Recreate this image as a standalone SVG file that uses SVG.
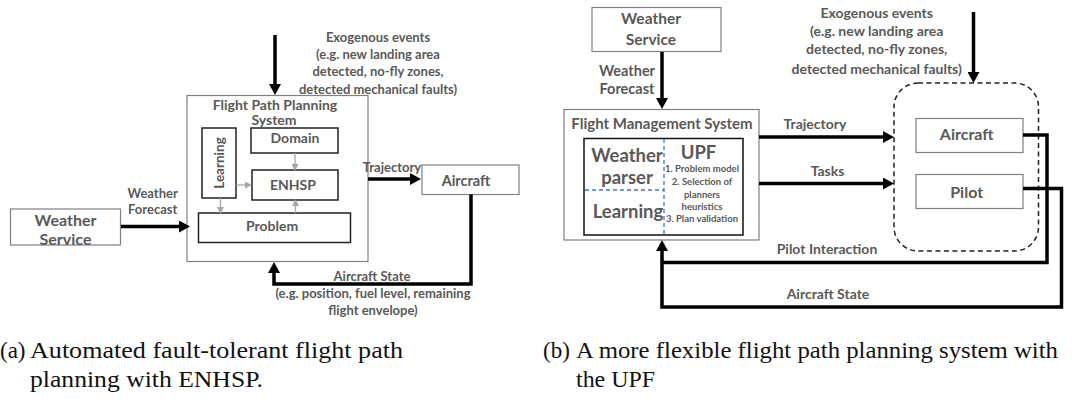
<svg xmlns="http://www.w3.org/2000/svg" width="1091" height="399" viewBox="0 0 1091 399">
<defs>
<style>
.t{font-family:Lato,"Open Sans",sans-serif;font-weight:bold;fill:#595959;text-anchor:middle;dominant-baseline:central}
.cap{font-family:"Liberation Serif","Times New Roman",serif;fill:#111;font-size:23px}
.gbox{fill:#fff;stroke:#808080;stroke-width:1.2}
.kbox{fill:#fff;stroke:#222;stroke-width:1.5}
.thick{fill:none;stroke:#000;stroke-width:3.5}
.thin{fill:none;stroke:#a6a6a6;stroke-width:1.3}
.blue{fill:none;stroke:#4472c4;stroke-width:1.3;stroke-dasharray:4 3}
</style>
<marker id="ah" markerUnits="userSpaceOnUse" markerWidth="12" markerHeight="12" refX="4" refY="6" orient="auto">
<path d="M0,0 L11,6 L0,12 z" fill="#000"/>
</marker>
<marker id="gh" markerUnits="userSpaceOnUse" markerWidth="7" markerHeight="7" refX="2" refY="3.5" orient="auto">
<path d="M0,0 L7,3.5 L0,7 z" fill="#a6a6a6"/>
</marker>
</defs>

<!-- ===== Panel (a) ===== -->
<g id="a-weather-service">
<rect class="gbox" x="10.5" y="209" width="110" height="36"/>
<text class="t" x="65.5" y="219" font-size="16">Weather</text>
<text class="t" x="65.5" y="238" font-size="16">Service</text>
</g>
<g id="a-fpps">
<rect class="gbox" x="187" y="95.5" width="181" height="166"/>
<text class="t" x="275" y="104.5" font-size="14">Flight Path Planning</text>
<text class="t" x="274" y="119.5" font-size="14">System</text>
</g>
<g id="a-learning">
<rect class="kbox" x="202" y="128" width="34" height="70"/>
<text class="t" font-size="13.5" transform="translate(219,163) rotate(-90)">Learning</text>
</g>
<g id="a-domain">
<rect class="kbox" x="251" y="128" width="87" height="25"/>
<text class="t" x="295" y="137.5" font-size="14">Domain</text>
</g>
<g id="a-enhsp">
<rect class="kbox" x="252" y="170" width="86" height="30"/>
<text class="t" x="293" y="184" font-size="14">ENHSP</text>
</g>
<g id="a-problem">
<rect class="kbox" x="198.5" y="213" width="152" height="29.5"/>
<text class="t" x="272" y="225.5" font-size="14">Problem</text>
</g>
<g id="a-aircraft">
<rect class="gbox" x="422" y="165" width="97" height="29.5"/>
<text class="t" x="466" y="180" font-size="14.5">Aircraft</text>
</g>
<g id="a-labels">
<text class="t" x="152.7" y="193" font-size="13">Weather</text>
<text class="t" x="152.7" y="209" font-size="13">Forecast</text>
<text class="t" x="378" y="37" font-size="13">Exogenous events</text>
<text class="t" x="378" y="54" font-size="13">(e.g. new landing area</text>
<text class="t" x="378" y="71" font-size="13">detected, no-fly zones,</text>
<text class="t" x="378" y="88.5" font-size="13">detected mechanical faults)</text>
<text class="t" x="392" y="167" font-size="13">Trajectory</text>
<text class="t" x="372" y="275.5" font-size="13">Aircraft State</text>
<text class="t" x="373" y="293" font-size="13">(e.g. position, fuel level, remaining</text>
<text class="t" x="373" y="310" font-size="13">flight envelope)</text>
</g>
<g id="a-connectors">
<line class="thick" x1="121" y1="226.5" x2="183" y2="226.5" marker-end="url(#ah)"/>
<line class="thick" x1="275" y1="35" x2="275" y2="88" marker-end="url(#ah)"/>
<line class="thick" x1="368" y1="179" x2="414" y2="179" marker-end="url(#ah)"/>
<polyline class="thick" points="471,194.5 471,284 274,284 274,269" marker-end="url(#ah)"/>
<line class="thin" x1="295" y1="153" x2="295" y2="166" marker-end="url(#gh)"/>
<line class="thin" x1="236" y1="185" x2="247" y2="185" marker-end="url(#gh)"/>
<line class="thin" x1="220.5" y1="198" x2="220.5" y2="209" marker-end="url(#gh)"/>
<line class="thin" x1="295.5" y1="213" x2="295.5" y2="204" marker-end="url(#gh)"/>
</g>

<!-- ===== Panel (b) ===== -->
<g id="b-weather-service">
<rect class="gbox" x="592" y="7.5" width="129" height="44"/>
<text class="t" x="651" y="17.5" font-size="15.5">Weather</text>
<text class="t" x="651" y="39" font-size="15.5">Service</text>
</g>
<g id="b-fms">
<rect class="gbox" x="564" y="109.5" width="195" height="130.5"/>
<text class="t" x="662" y="122.5" font-size="15">Flight Management System</text>
</g>
<g id="b-inner">
<rect fill="#fff" stroke="#111" stroke-width="1.5" x="584" y="138.5" width="159" height="96.5"/>
<line class="blue" x1="664" y1="139" x2="664" y2="235"/>
<line class="blue" x1="585" y1="190" x2="664" y2="190"/>
<text class="t" x="627" y="154.5" font-size="18.5">Weather</text>
<text class="t" x="627" y="177" font-size="18.5">parser</text>
<text class="t" x="628" y="211" font-size="18.5">Learning</text>
<text class="t" x="698.5" y="152" font-size="18.5">UPF</text>
<text class="t" x="702" y="168.5" font-size="9.5">1. Problem model</text>
<text class="t" x="702" y="181.5" font-size="9.5">2. Selection of</text>
<text class="t" x="702" y="194.3" font-size="9.5">planners</text>
<text class="t" x="702" y="206.3" font-size="9.5">heuristics</text>
<text class="t" x="702" y="218.5" font-size="9.5">3. Plan validation</text>
</g>
<g id="b-env">
<rect fill="none" stroke="#222" stroke-width="1.5" stroke-dasharray="5 3.5" x="894" y="83" width="144.5" height="168" rx="24"/>
</g>
<g id="b-aircraft">
<rect class="gbox" x="916" y="118.5" width="107" height="34"/>
<text class="t" x="966.7" y="133.5" font-size="16">Aircraft</text>
</g>
<g id="b-pilot">
<rect class="gbox" x="916" y="174.5" width="107" height="34"/>
<text class="t" x="966.7" y="191.5" font-size="16">Pilot</text>
</g>
<g id="b-labels">
<text class="t" x="627" y="70" font-size="14.5">Weather</text>
<text class="t" x="627" y="88.5" font-size="14.5">Forecast</text>
<text class="t" x="876.7" y="12" font-size="14">Exogenous events</text>
<text class="t" x="876.7" y="30" font-size="14">(e.g. new landing area</text>
<text class="t" x="876.7" y="48.5" font-size="14">detected, no-fly zones,</text>
<text class="t" x="876.7" y="68" font-size="14">detected mechanical faults)</text>
<text class="t" x="815" y="123" font-size="14">Trajectory</text>
<text class="t" x="827.5" y="170" font-size="14">Tasks</text>
<text class="t" x="827" y="248.5" font-size="14">Pilot Interaction</text>
<text class="t" x="828" y="293.5" font-size="14">Aircraft State</text>
</g>
<g id="b-connectors">
<line class="thick" x1="662" y1="52" x2="662" y2="102" marker-end="url(#ah)"/>
<line class="thick" x1="973.5" y1="12" x2="973.5" y2="76" marker-end="url(#ah)"/>
<line class="thick" x1="759" y1="137" x2="887" y2="137" marker-end="url(#ah)"/>
<line class="thick" x1="759" y1="183.5" x2="887" y2="183.5" marker-end="url(#ah)"/>
<polyline class="thick" points="1023,135 1047,135 1047,262.5 662,262.5"/>
<polyline class="thick" points="1023,188.5 1061.5,188.5 1061.5,307 662,307 662,247" marker-end="url(#ah)"/>
</g>

<!-- ===== Captions ===== -->
<g id="captions">
<text class="cap" x="0" y="358">(a)</text>
<text class="cap" x="30" y="358" textLength="373" lengthAdjust="spacingAndGlyphs">Automated fault-tolerant flight path</text>
<text class="cap" x="30" y="387" textLength="233" lengthAdjust="spacingAndGlyphs">planning with ENHSP.</text>
<text class="cap" x="543" y="358">(b)</text>
<text class="cap" x="576" y="358" textLength="482" lengthAdjust="spacingAndGlyphs">A more flexible flight path planning system with</text>
<text class="cap" x="576" y="387" textLength="79" lengthAdjust="spacingAndGlyphs">the UPF</text>
</g>
</svg>
